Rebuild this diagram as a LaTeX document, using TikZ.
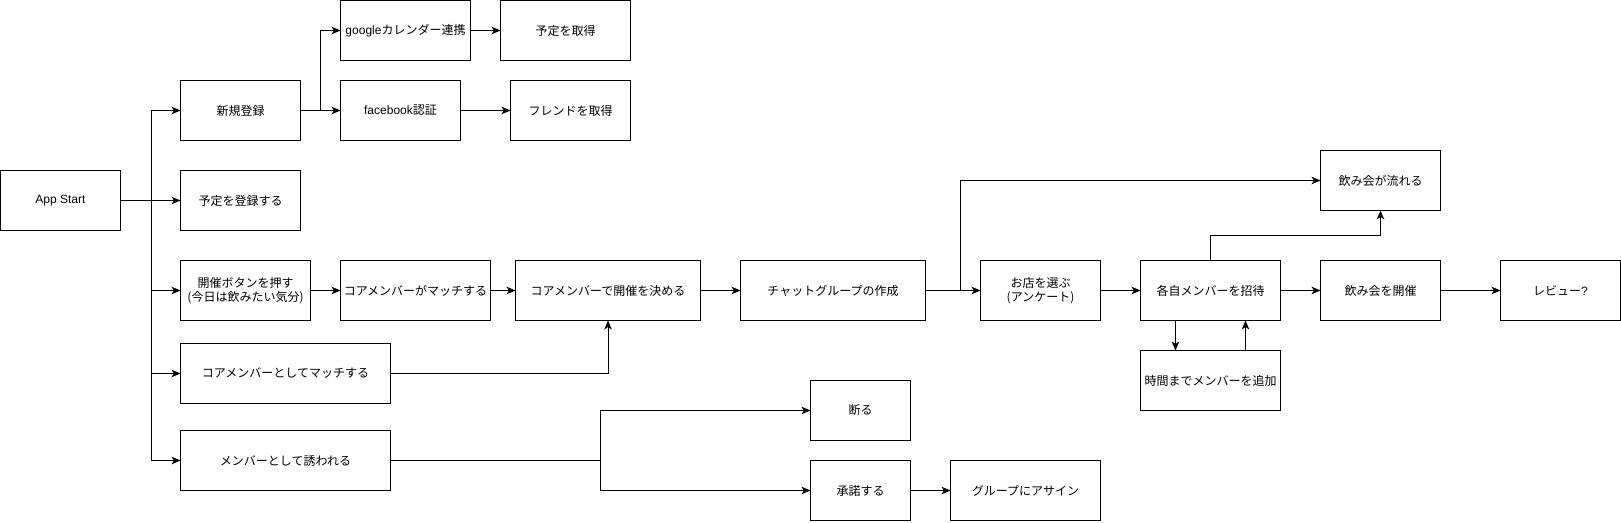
\documentclass[tikz,border=0pt]{standalone}
\usepackage{fontspec}
\setmainfont{Noto Sans CJK JP}
\newfontfamily\lat{Liberation Sans}
\usetikzlibrary{arrows.meta}
\begin{document}
\begin{tikzpicture}[x=1pt,y=-1pt,
  box/.style={draw, line width=1pt, inner sep=0pt, outer sep=0pt, align=center,
    minimum height=60pt, font=\fontsize{12}{14}\selectfont},
  arr/.style={line width=1pt, -{Stealth[length=9pt,width=7.5pt,inset=2.5pt]}}]
\useasboundingbox (-0.5,-0.5) rectangle (1620.5,521.5);
\fill[white] (-0.5,-0.5) rectangle (1620.5,521.5);
% nodes
\node[box, minimum width=120pt] (start) at (60,200) {{\lat App Start}};
\node[box, minimum width=120pt] (reg) at (240,110) {新規登録};
\node[box, minimum width=120pt] (sched) at (240,200) {予定を登録する};
\node[box, minimum width=130pt] (gcal) at (405,30) {{\lat google}カレンダー連携};
\node[box, minimum width=130pt] (getsched) at (565,30) {予定を取得};
\node[box, minimum width=120pt] (fb) at (400,110) {{\lat facebook}認証};
\node[box, minimum width=120pt] (friends) at (570,110) {フレンドを取得};
\node[box, minimum width=130pt] (btn) at (245,290) {開催ボタンを押す\\(今日は飲みたい気分)};
\node[box, minimum width=150pt] (cm) at (415,290) {コアメンバーがマッチする};
\node[box, minimum width=185pt] (decide) at (607.5,290) {コアメンバーで開催を決める};
\node[box, minimum width=185pt] (chat) at (832.5,290) {チャットグループの作成};
\node[box, minimum width=120pt] (shop) at (1040,290) {お店を選ぶ\\(アンケート)};
\node[box, minimum width=140pt] (invite) at (1210,290) {各自メンバーを招待};
\node[box, minimum width=120pt] (held) at (1380,290) {飲み会を開催};
\node[box, minimum width=120pt] (review) at (1560,290) {レビュー{\lat ?}};
\node[box, minimum width=120pt] (cancel) at (1380,180) {飲み会が流れる};
\node[box, minimum width=140pt] (addm) at (1210,380) {時間までメンバーを追加};
\node[box, minimum width=210pt] (asCore) at (285,373) {コアメンバーとしてマッチする};
\node[box, minimum width=210pt] (invited) at (285,460) {メンバーとして誘われる};
\node[box, minimum width=100pt] (refuse) at (860,410) {断る};
\node[box, minimum width=100pt] (accept) at (860,490) {承諾する};
\node[box, minimum width=150pt] (assign) at (1025,490) {グループにアサイン};
% junction points
\coordinate (tr) at (151,200);
\coordinate (rs) at (320,110);
\coordinate (is) at (600,460);
\coordinate (cs) at (960,290);
% connectors
\draw[arr] (start.east) -- (sched.west);
\draw[arr] (start.east) -- (tr) |- (reg.west);
\draw[arr] (start.east) -- (tr) |- (btn.west);
\draw[arr] (start.east) -- (tr) |- (asCore.west);
\draw[arr] (start.east) -- (tr) |- (invited.west);
\draw[arr] (reg.east) -- (fb.west);
\draw[arr] (reg.east) -- (rs) |- (gcal.west);
\draw[arr] (gcal.east) -- (getsched.west);
\draw[arr] (fb.east) -- (friends.west);
\draw[arr] (btn.east) -- (cm.west);
\draw[arr] (cm.east) -- (decide.west);
\draw[arr] (decide.east) -- (chat.west);
\draw[arr] (chat.east) -- (shop.west);
\draw[arr] (chat.east) -- (cs) |- (cancel.west);
\draw[arr] (shop.east) -- (invite.west);
\draw[arr] (invite.east) -- (held.west);
\draw[arr] (held.east) -- (review.west);
\draw[arr] (invite.north) -- ++(0,-25) -| (cancel.south);
\draw[arr] ([xshift=-35pt]invite.south) -- ([xshift=-35pt]addm.north);
\draw[arr] ([xshift=35pt]addm.north) -- ([xshift=35pt]invite.south);
\draw[arr] (asCore.east) -| (decide.south);
\draw[arr] (invited.east) -- (is) |- (refuse.west);
\draw[arr] (invited.east) -- (is) |- (accept.west);
\draw[arr] (accept.east) -- (assign.west);
\end{tikzpicture}
\end{document}
